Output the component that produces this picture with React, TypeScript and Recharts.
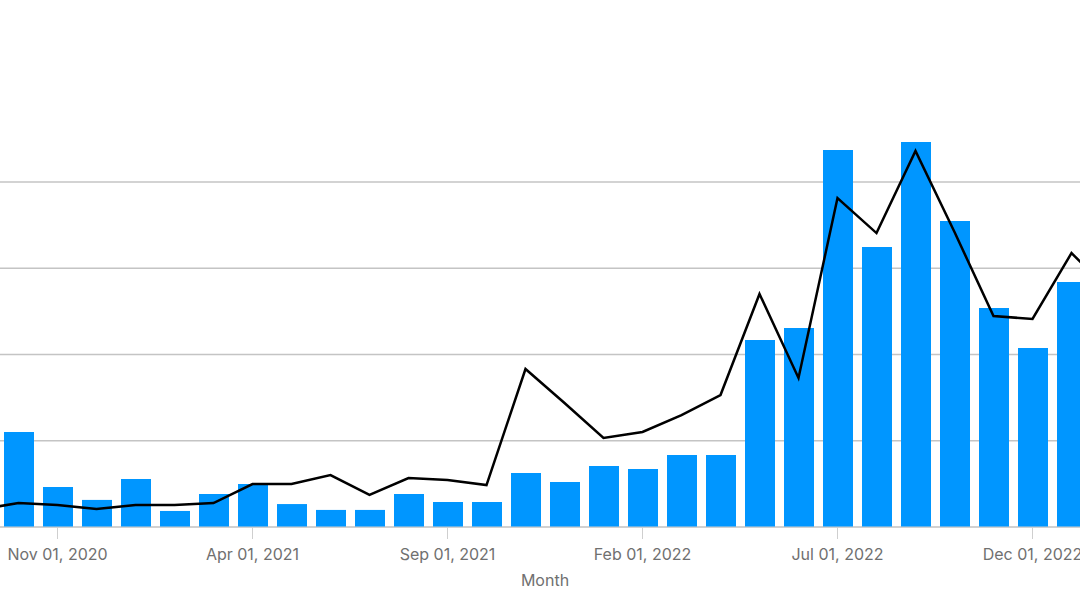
import { ComposedChart, Bar, Line, XAxis, YAxis, CartesianGrid } from 'recharts';

const months = [
  'Sep 01, 2020', 'Oct 01, 2020', 'Nov 01, 2020', 'Dec 01, 2020',
  'Jan 01, 2021', 'Feb 01, 2021', 'Mar 01, 2021', 'Apr 01, 2021',
  'May 01, 2021', 'Jun 01, 2021', 'Jul 01, 2021', 'Aug 01, 2021',
  'Sep 01, 2021', 'Oct 01, 2021', 'Nov 01, 2021', 'Dec 01, 2021',
  'Jan 01, 2022', 'Feb 01, 2022', 'Mar 01, 2022', 'Apr 01, 2022',
  'May 01, 2022', 'Jun 01, 2022', 'Jul 01, 2022', 'Aug 01, 2022',
  'Sep 01, 2022', 'Oct 01, 2022', 'Nov 01, 2022', 'Dec 01, 2022',
  'Jan 01, 2023', 'Feb 01, 2023',
];

const barValues = [
  40, 55.1, 23.2, 15.7, 27.8, 9.3, 19.1, 24.9, 13.3, 9.9, 9.9, 19.1, 14.5, 14.5,
  31.3, 26.1, 35.4, 33.6, 41.7, 41.7, 108.4, 115.4, 218.6, 162.3, 223.2, 177.4,
  127.0, 103.8, 142.0, 120,
];

const lineValues = [
  10.1, 13.9, 12.8, 10.4, 12.8, 12.8, 13.9, 24.9, 24.9, 30.1, 18.6, 28.4, 27.2,
  24.3, 91.6, 71.9, 51.6, 55.1, 64.9, 76.5, 135.1, 86.4, 190.7, 170.4, 218.0,
  171.0, 122.3, 120.6, 158.8, 136.2,
];

const tickLabels = ['Nov 01, 2020', 'Apr 01, 2021', 'Sep 01, 2021', 'Feb 01, 2022', 'Jul 01, 2022', 'Dec 01, 2022'];
const yTicks = [0, 50, 100, 150, 200];

const data = months.map((month, i) => ({
  month,
  count: barValues[i],
  trend: lineValues[i],
}));

const font = 'Inter, "Liberation Sans", Arial, sans-serif';

export default function App() {
  return (
    <div
      style={{
        position: 'fixed',
        left: 0,
        top: 0,
        width: 1080,
        height: 607,
        overflow: 'hidden',
        background: '#fff',
      }}
    >
      <div style={{ position: 'absolute', left: -40.5, top: 0 }}>
        <ComposedChart
          width={1170}
          height={607}
          data={data}
          margin={{ top: 95.75, right: 0, bottom: 16, left: 0 }}
          barCategoryGap={0}
        >
          <CartesianGrid
            vertical={false}
            horizontalValues={yTicks}
            stroke="#c4c4c4"
            strokeWidth={1.5}
          />
          <XAxis
            dataKey="month"
            ticks={tickLabels}
            interval={0}
            height={64}
            tickSize={12}
            tickMargin={10}
            stroke="#cfcfcf"
            tick={{ fill: '#707070', fontSize: 16, fontFamily: font }}
            label={{
              value: 'Month',
              position: 'insideBottom',
              offset: 5,
              fill: '#707070',
              fontSize: 16,
              fontFamily: font,
            }}
          />
          <YAxis hide domain={[0, 250]} ticks={yTicks} />
          <Bar dataKey="count" fill="#0096ff" barSize={30} isAnimationActive={false} />
          <Line
            type="linear"
            dataKey="trend"
            stroke="#000"
            strokeWidth={2.5}
            dot={false}
            isAnimationActive={false}
          />
        </ComposedChart>
      </div>
    </div>
  );
}
